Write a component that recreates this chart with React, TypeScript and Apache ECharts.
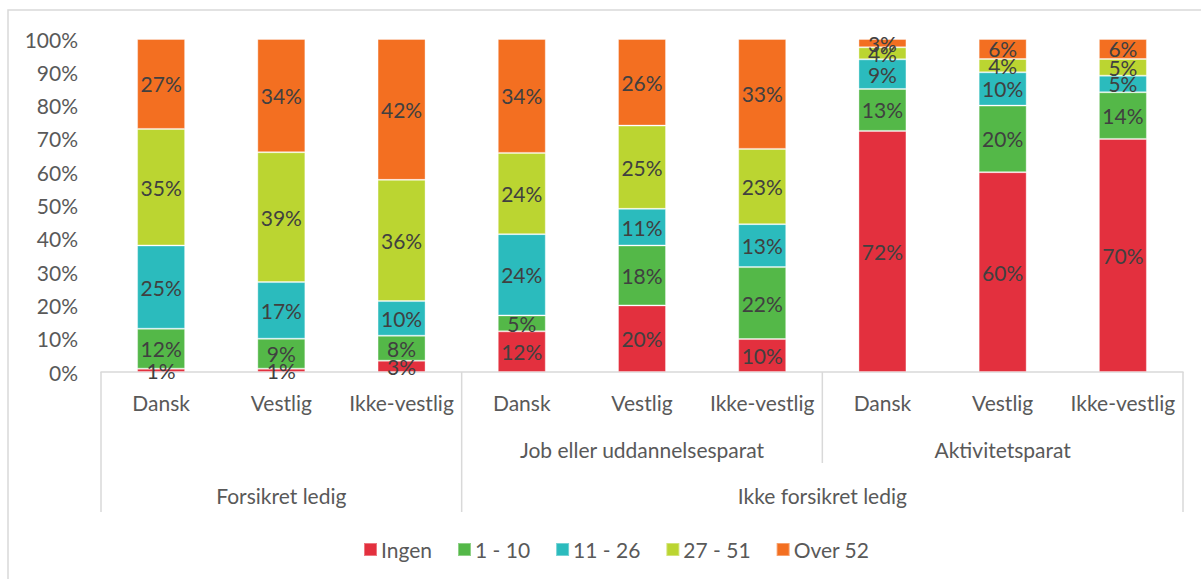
import React, { useEffect, useRef } from "react";
import * as echarts from "echarts";

const categories = ["Dansk", "Vestlig", "Ikke-vestlig", "Dansk", "Vestlig", "Ikke-vestlig", "Dansk", "Vestlig", "Ikke-vestlig"];
const midGroups = [
  { label: "Job eller uddannelsesparat", from: 3, to: 5 },
  { label: "Aktivitetsparat", from: 6, to: 8 },
];
const topGroups = [
  { label: "Forsikret ledig", from: 0, to: 2 },
  { label: "Ikke forsikret ledig", from: 3, to: 8 },
];
const seriesNames = ["Ingen", "1 - 10", "11 - 26", "27 - 51", "Over 52"];
const colors = ["#E3303E", "#54B848", "#2BBBBD", "#BBD531", "#F36F21"];
const ingen = [1, 1, 3.4, 12.2, 20, 9.9, 72.4, 60, 70];
const w1to10 = [12, 9, 7.5, 4.8, 18, 21.6, 12.6, 20, 14];
const w11to26 = [25, 17, 10.4, 24.4, 11, 12.9, 8.9, 10, 5];
const w27to51 = [35, 39, 36.4, 24.4, 25, 22.6, 3.6, 4, 5];
const over52 = [27, 34, 42.3, 34.2, 26, 33, 2.5, 6, 6];
const yTicks = [0, 10, 20, 30, 40, 50, 60, 70, 80, 90, 100];

const FONT = "Lato, 'Liberation Sans', sans-serif";
const FS = 21;
const AXIS_TEXT = "#595959";
const LINE = "#D9D9D9";

export default function App() {
  const ref = useRef<HTMLDivElement>(null);
  useEffect(() => {
    document.body.style.margin = "0";
    if (!ref.current) return;
    const chart = echarts.init(ref.current, undefined, { renderer: "svg" });
    const values = [ingen, w1to10, w11to26, w27to51, over52];
    chart.setOption({
      animation: false,
      textStyle: { fontFamily: FONT },
      grid: { left: 101, right: 18, top: 39, bottom: 207, containLabel: false },
      legend: {
        data: seriesNames,
        top: 534,
        left: 358,
        itemWidth: 13,
        itemHeight: 13,
        itemGap: 25,
        icon: "rect",
        textStyle: { fontSize: FS, color: AXIS_TEXT, fontFamily: FONT, padding: [0, 0, 0, -1] },
      },
      xAxis: {
        type: "category",
        data: categories,
        axisLine: { lineStyle: { color: LINE, width: 1.5 } },
        axisTick: { show: false },
        axisLabel: { fontSize: FS, color: AXIS_TEXT, margin: 20, interval: 0, fontFamily: FONT },
      },
      yAxis: {
        type: "value",
        min: 0,
        max: 100,
        interval: 10,
        axisLine: { show: false },
        axisTick: { show: false },
        splitLine: { show: false },
        axisLabel: {
          fontSize: FS,
          color: AXIS_TEXT,
          margin: 23,
          fontFamily: FONT,
          formatter: (v: number) => (yTicks.includes(v) ? v + "%" : ""),
        },
      },
      series: seriesNames.map((name, i) => ({
        name,
        type: "bar",
        stack: "total",
        barWidth: 48,
        data: values[i],
        itemStyle: { color: colors[i], borderColor: "rgba(255,255,255,0.35)", borderWidth: 1 },
        label: {
          show: true,
          position: "inside",
          fontSize: FS,
          color: "#404040",
          fontFamily: FONT,
          formatter: (p: any) => Math.round(p.value) + "%",
        },
      })),
    });

    const px = (i: number) => chart.convertToPixel({ xAxisIndex: 0 }, i) as number;
    const y0 = chart.convertToPixel({ yAxisIndex: 0 }, 0) as number;
    const catW = px(1) - px(0);
    const boundary = (i: number) => px(i) - catW / 2;
    const vline = (x: number, len: number) => ({
      type: "line",
      shape: { x1: x, y1: y0, x2: x, y2: y0 + len },
      style: { stroke: LINE, lineWidth: 1.5 },
    });
    const label = (text: string, x: number, y: number) => ({
      type: "text",
      x,
      y,
      style: { text, fontSize: FS, fill: AXIS_TEXT, fontFamily: FONT, textAlign: "center", textVerticalAlign: "middle" },
    });
    const graphics: any[] = [
      {
        type: "rect",
        shape: { x: 8, y: 10, width: 1400, height: 800 },
        style: { fill: "none", stroke: LINE, lineWidth: 1.5 },
        silent: true,
      },
      vline(boundary(0), 140),
      vline(boundary(3), 140),
      vline(boundary(6), 91),
      vline(boundary(9), 140),
    ];
    midGroups.forEach((g) => graphics.push(label(g.label, (px(g.from) + px(g.to)) / 2, y0 + 77)));
    topGroups.forEach((g) => graphics.push(label(g.label, (px(g.from) + px(g.to)) / 2, y0 + 123)));
    chart.setOption({ graphic: graphics });

    return () => chart.dispose();
  }, []);
  return <div ref={ref} style={{ width: 1201, height: 579 }} />;
}
